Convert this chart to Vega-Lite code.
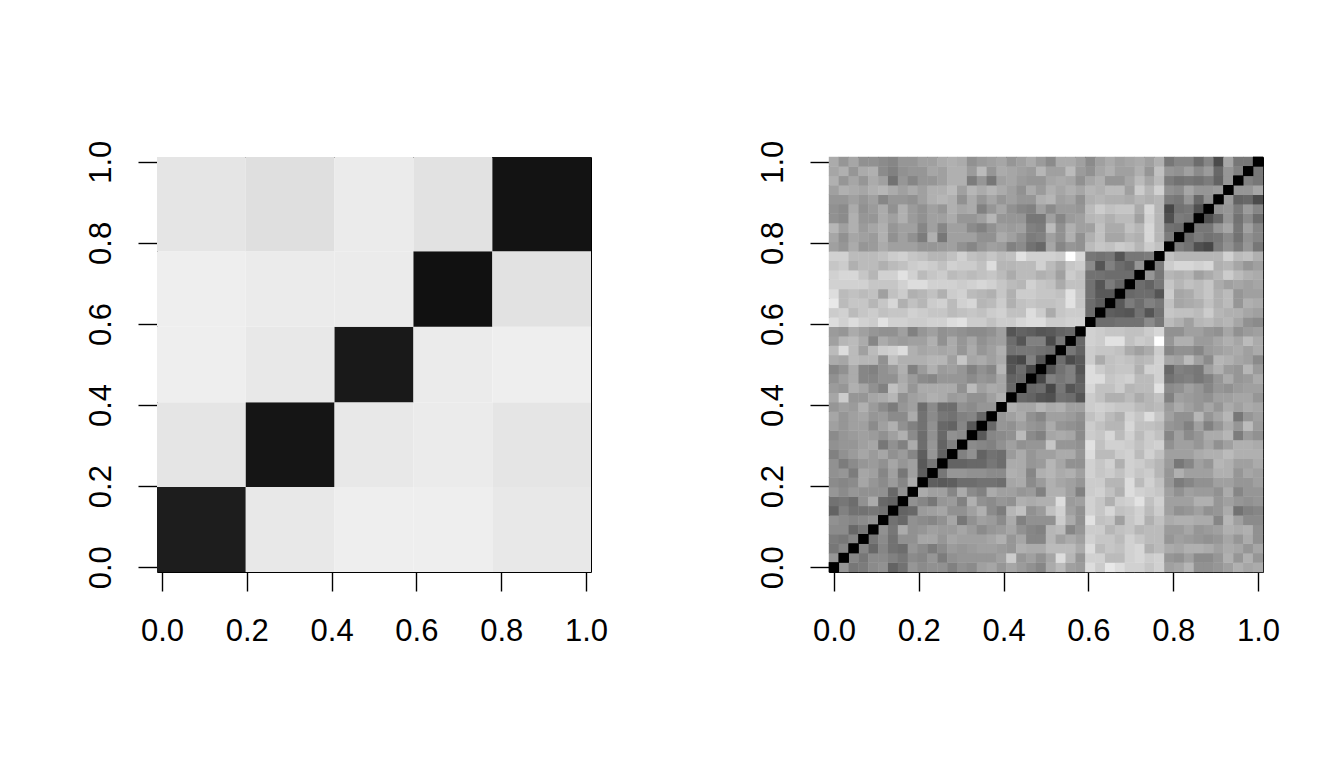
{"$schema":"https://vega.github.io/schema/vega-lite/v6.json","background":"white","padding":{"left":84,"top":139,"right":0,"bottom":0},"spacing":147,"config":{"view":{"stroke":"#000","strokeWidth":1},"font":"Liberation Sans","axis":{"domain":false,"grid":false,"title":null,"tickColor":"#000","tickWidth":1.4,"tickSize":19,"labelColor":"#000","labelFont":"Liberation Sans","labelFontSize":31}},"hconcat":[{"width":434,"height":415,"data":{"values":[{"a":-0.5,"b":8.5,"c":-0.5,"d":8.5,"v":11},{"a":8.5,"b":17.5,"c":-0.5,"d":8.5,"v":92},{"a":17.5,"b":25.5,"c":-0.5,"d":8.5,"v":94},{"a":25.5,"b":33.5,"c":-0.5,"d":8.5,"v":94},{"a":33.5,"b":43.5,"c":-0.5,"d":8.5,"v":92},{"a":-0.5,"b":8.5,"c":8.5,"d":17.5,"v":91},{"a":8.5,"b":17.5,"c":8.5,"d":17.5,"v":7},{"a":17.5,"b":25.5,"c":8.5,"d":17.5,"v":92},{"a":25.5,"b":33.5,"c":8.5,"d":17.5,"v":93},{"a":33.5,"b":43.5,"c":8.5,"d":17.5,"v":91},{"a":-0.5,"b":8.5,"c":17.5,"d":25.5,"v":94},{"a":8.5,"b":17.5,"c":17.5,"d":25.5,"v":92},{"a":17.5,"b":25.5,"c":17.5,"d":25.5,"v":9},{"a":25.5,"b":33.5,"c":17.5,"d":25.5,"v":93},{"a":33.5,"b":43.5,"c":17.5,"d":25.5,"v":94},{"a":-0.5,"b":8.5,"c":25.5,"d":33.5,"v":94},{"a":8.5,"b":17.5,"c":25.5,"d":33.5,"v":93},{"a":17.5,"b":25.5,"c":25.5,"d":33.5,"v":93},{"a":25.5,"b":33.5,"c":25.5,"d":33.5,"v":5},{"a":33.5,"b":43.5,"c":25.5,"d":33.5,"v":90},{"a":-0.5,"b":8.5,"c":33.5,"d":43.5,"v":91},{"a":8.5,"b":17.5,"c":33.5,"d":43.5,"v":89},{"a":17.5,"b":25.5,"c":33.5,"d":43.5,"v":93},{"a":25.5,"b":33.5,"c":33.5,"d":43.5,"v":90},{"a":33.5,"b":43.5,"c":33.5,"d":43.5,"v":6}]},"mark":"rect","encoding":{"x":{"field":"a","type":"quantitative","scale":{"domain":[-0.5,43.5],"nice":false,"zero":false},"axis":{"values":[0,8.6,17.2,25.8,34.4,43],"labelExpr":"format(datum.value/43,'.1f')","labelPadding":25}},"x2":{"field":"b"},"y":{"field":"c","type":"quantitative","scale":{"domain":[-0.5,43.5],"nice":false,"zero":false},"axis":{"values":[0,8.6,17.2,25.8,34.4,43],"labelExpr":"format(datum.value/43,'.1f')","labelAngle":270,"labelAlign":"center","labelBaseline":"bottom","labelPadding":21}},"y2":{"field":"d"},"color":{"field":"v","type":"quantitative","legend":null,"scale":{"domain":[0,100],"range":["#000000","#ffffff"]}}}},{"width":434,"height":415,"data":{"format":{"type":"csv"},"values":"i,j,v\n0,1,62\n0,2,50\n1,2,56\n0,3,52\n1,3,50\n2,3,56\n0,4,58\n1,4,58\n2,4,44\n3,4,50\n0,5,60\n1,5,58\n2,5,56\n3,5,58\n4,5,60\n0,6,42\n1,6,54\n2,6,48\n3,6,48\n4,6,50\n5,6,48\n0,7,48\n1,7,50\n2,7,46\n3,7,60\n4,7,70\n5,7,44\n6,7,42\n0,8,62\n1,8,58\n2,8,62\n3,8,60\n4,8,60\n5,8,60\n6,8,44\n7,8,60\n0,9,58\n1,9,56\n2,9,58\n3,9,68\n4,9,62\n5,9,58\n6,9,64\n7,9,56\n8,9,70\n0,10,60\n1,10,62\n2,10,52\n3,10,68\n4,10,66\n5,10,56\n6,10,66\n7,10,50\n8,10,66\n9,10,40\n0,11,60\n1,11,52\n2,11,58\n3,11,62\n4,11,64\n5,11,60\n6,11,68\n7,11,62\n8,11,66\n9,11,38\n10,11,50\n0,12,54\n1,12,60\n2,12,64\n3,12,68\n4,12,64\n5,12,68\n6,12,60\n7,12,64\n8,12,56\n9,12,40\n10,12,62\n11,12,42\n0,13,60\n1,13,62\n2,13,62\n3,13,66\n4,13,68\n5,13,50\n6,13,60\n7,13,54\n8,13,70\n9,13,46\n10,13,62\n11,13,42\n12,13,54\n0,14,58\n1,14,62\n2,14,64\n3,14,66\n4,14,64\n5,14,60\n6,14,66\n7,14,72\n8,14,58\n9,14,46\n10,14,60\n11,14,44\n12,14,60\n13,14,58\n0,15,66\n1,15,62\n2,15,66\n3,15,66\n4,15,58\n5,15,66\n6,15,72\n7,15,60\n8,15,54\n9,15,48\n10,15,60\n11,15,44\n12,15,42\n13,15,56\n14,15,38\n0,16,68\n1,16,62\n2,16,66\n3,16,68\n4,16,62\n5,16,64\n6,16,58\n7,16,58\n8,16,70\n9,16,48\n10,16,58\n11,16,50\n12,16,48\n13,16,54\n14,16,56\n15,16,44\n0,17,62\n1,17,66\n2,17,64\n3,17,72\n4,17,64\n5,17,58\n6,17,52\n7,17,62\n8,17,66\n9,17,46\n10,17,58\n11,17,46\n12,17,46\n13,17,60\n14,17,58\n15,17,62\n16,17,62\n0,18,68\n1,18,82\n2,18,62\n3,18,62\n4,18,68\n5,18,70\n6,18,74\n7,18,60\n8,18,66\n9,18,68\n10,18,72\n11,18,70\n12,18,64\n13,18,66\n14,18,60\n15,18,60\n16,18,66\n17,18,72\n0,19,64\n1,19,62\n2,19,72\n3,19,68\n4,19,60\n5,19,54\n6,19,78\n7,19,72\n8,19,62\n9,19,70\n10,19,70\n11,19,70\n12,19,70\n13,19,60\n14,19,76\n15,19,66\n16,19,70\n17,19,68\n18,19,44\n0,20,60\n1,20,66\n2,20,70\n3,20,56\n4,20,56\n5,20,60\n6,20,60\n7,20,70\n8,20,64\n9,20,58\n10,20,56\n11,20,62\n12,20,62\n13,20,62\n14,20,58\n15,20,62\n16,20,60\n17,20,68\n18,20,42\n19,20,44\n0,21,56\n1,21,60\n2,21,70\n3,21,56\n4,21,54\n5,21,60\n6,21,64\n7,21,72\n8,21,54\n9,21,64\n10,21,72\n11,21,64\n12,21,66\n13,21,62\n14,21,54\n15,21,60\n16,21,56\n17,21,74\n18,21,36\n19,21,46\n20,21,30\n0,22,70\n1,22,68\n2,22,76\n3,22,74\n4,22,74\n5,22,60\n6,22,78\n7,22,72\n8,22,72\n9,22,72\n10,22,74\n11,22,74\n12,22,66\n13,22,80\n14,22,68\n15,22,70\n16,22,66\n17,22,70\n18,22,34\n19,22,30\n20,22,54\n21,22,36\n0,23,76\n1,23,88\n2,23,76\n3,23,66\n4,23,76\n5,23,82\n6,23,84\n7,23,88\n8,23,72\n9,23,68\n10,23,70\n11,23,68\n12,23,70\n13,23,62\n14,23,70\n15,23,62\n16,23,66\n17,23,72\n18,23,48\n19,23,50\n20,23,50\n21,23,48\n22,23,46\n0,24,66\n1,24,74\n2,24,76\n3,24,70\n4,24,56\n5,24,70\n6,24,66\n7,24,64\n8,24,66\n9,24,66\n10,24,72\n11,24,60\n12,24,70\n13,24,62\n14,24,68\n15,24,60\n16,24,64\n17,24,66\n18,24,46\n19,24,36\n20,24,54\n21,24,54\n22,24,32\n23,24,50\n0,25,64\n1,25,62\n2,25,70\n3,25,66\n4,25,62\n5,25,60\n6,25,60\n7,25,66\n8,25,54\n9,25,62\n10,25,66\n11,25,60\n12,25,62\n13,25,60\n14,25,58\n15,25,58\n16,25,60\n17,25,66\n18,25,36\n19,25,42\n20,25,40\n21,25,36\n22,25,38\n23,25,42\n24,25,44\n0,26,88\n1,26,84\n2,26,88\n3,26,84\n4,26,82\n5,26,90\n6,26,84\n7,26,84\n8,26,82\n9,26,82\n10,26,84\n11,26,84\n12,26,88\n13,26,90\n14,26,82\n15,26,82\n16,26,78\n17,26,82\n18,26,82\n19,26,86\n20,26,88\n21,26,88\n22,26,82\n23,26,82\n24,26,84\n25,26,84\n0,27,82\n1,27,84\n2,27,76\n3,27,80\n4,27,82\n5,27,78\n6,27,80\n7,27,80\n8,27,84\n9,27,82\n10,27,80\n11,27,80\n12,27,76\n13,27,78\n14,27,80\n15,27,78\n16,27,82\n17,27,84\n18,27,78\n19,27,78\n20,27,88\n21,27,82\n22,27,70\n23,27,80\n24,27,82\n25,27,82\n26,27,46\n0,28,92\n1,28,76\n2,28,80\n3,28,80\n4,28,74\n5,28,80\n6,28,86\n7,28,72\n8,28,78\n9,28,74\n10,28,82\n11,28,84\n12,28,76\n13,28,84\n14,28,86\n15,28,74\n16,28,76\n17,28,82\n18,28,72\n19,28,78\n20,28,80\n21,28,78\n22,28,78\n23,28,80\n24,28,90\n25,28,80\n26,28,46\n27,28,40\n0,29,88\n1,29,76\n2,29,78\n3,29,76\n4,29,78\n5,29,66\n6,29,78\n7,29,82\n8,29,72\n9,29,74\n10,29,78\n11,29,72\n12,29,82\n13,29,84\n14,29,76\n15,29,74\n16,29,72\n17,29,80\n18,29,72\n19,29,82\n20,29,82\n21,29,80\n22,29,80\n23,29,78\n24,29,90\n25,29,80\n26,29,48\n27,29,38\n28,29,38\n0,30,84\n1,30,84\n2,30,84\n3,30,84\n4,30,80\n5,30,80\n6,30,80\n7,30,84\n8,30,88\n9,30,88\n10,30,84\n11,30,84\n12,30,84\n13,30,82\n14,30,84\n15,30,86\n16,30,84\n17,30,80\n18,30,76\n19,30,74\n20,30,84\n21,30,80\n22,30,78\n23,30,70\n24,30,78\n25,30,78\n26,30,48\n27,30,36\n28,30,52\n29,30,44\n0,31,84\n1,31,86\n2,31,86\n3,31,80\n4,31,74\n5,31,84\n6,31,84\n7,31,90\n8,31,84\n9,31,76\n10,31,80\n11,31,82\n12,31,76\n13,31,78\n14,31,76\n15,31,78\n16,31,80\n17,31,76\n18,31,70\n19,31,76\n20,31,76\n21,31,72\n22,31,74\n23,31,66\n24,31,82\n25,31,78\n26,31,48\n27,31,48\n28,31,46\n29,31,46\n30,31,46\n0,32,80\n1,32,82\n2,32,72\n3,32,76\n4,32,76\n5,32,72\n6,32,76\n7,32,78\n8,32,82\n9,32,84\n10,32,82\n11,32,78\n12,32,84\n13,32,82\n14,32,82\n15,32,78\n16,32,88\n17,32,74\n18,32,74\n19,32,76\n20,32,76\n21,32,84\n22,32,76\n23,32,70\n24,32,80\n25,32,82\n26,32,58\n27,32,36\n28,32,54\n29,32,46\n30,32,42\n31,32,62\n0,33,84\n1,33,84\n2,33,76\n3,33,76\n4,33,76\n5,33,78\n6,33,82\n7,33,84\n8,33,80\n9,33,78\n10,33,74\n11,33,74\n12,33,78\n13,33,84\n14,33,78\n15,33,76\n16,33,80\n17,33,76\n18,33,78\n19,33,90\n20,33,84\n21,33,84\n22,33,84\n23,33,82\n24,33,100\n25,33,86\n26,33,50\n27,33,48\n28,33,50\n29,33,36\n30,33,50\n31,33,50\n32,33,52\n0,34,66\n1,34,62\n2,34,70\n3,34,62\n4,34,64\n5,34,70\n6,34,66\n7,34,66\n8,34,66\n9,34,62\n10,34,62\n11,34,64\n12,34,66\n13,34,60\n14,34,56\n15,34,62\n16,34,66\n17,34,64\n18,34,54\n19,34,58\n20,34,48\n21,34,44\n22,34,68\n23,34,56\n24,34,62\n25,34,60\n26,34,76\n27,34,80\n28,34,78\n29,34,82\n30,34,80\n31,34,74\n32,34,82\n33,34,78\n0,35,68\n1,35,60\n2,35,68\n3,35,66\n4,35,64\n5,35,72\n6,35,60\n7,35,66\n8,35,60\n9,35,52\n10,35,72\n11,35,50\n12,35,66\n13,35,66\n14,35,66\n15,35,60\n16,35,60\n17,35,70\n18,35,66\n19,35,60\n20,35,52\n21,35,54\n22,35,66\n23,35,60\n24,35,72\n25,35,60\n26,35,72\n27,35,78\n28,35,68\n29,35,68\n30,35,74\n31,35,72\n32,35,86\n33,35,74\n34,35,52\n0,36,74\n1,36,66\n2,36,72\n3,36,64\n4,36,68\n5,36,72\n6,36,62\n7,36,66\n8,36,66\n9,36,56\n10,36,66\n11,36,56\n12,36,66\n13,36,66\n14,36,58\n15,36,54\n16,36,60\n17,36,66\n18,36,64\n19,36,66\n20,36,54\n21,36,52\n22,36,76\n23,36,60\n24,36,72\n25,36,66\n26,36,66\n27,36,78\n28,36,70\n29,36,70\n30,36,78\n31,36,74\n32,36,86\n33,36,74\n34,36,48\n35,36,46\n0,37,60\n1,37,58\n2,37,72\n3,37,62\n4,37,62\n5,37,70\n6,37,66\n7,37,72\n8,37,64\n9,37,60\n10,37,66\n11,37,66\n12,37,70\n13,37,62\n14,37,62\n15,37,66\n16,37,74\n17,37,62\n18,37,62\n19,37,62\n20,37,50\n21,37,50\n22,37,66\n23,37,56\n24,37,64\n25,37,66\n26,37,74\n27,37,76\n28,37,72\n29,37,76\n30,37,76\n31,37,66\n32,37,84\n33,37,74\n34,37,34\n35,37,52\n36,37,50\n0,38,60\n1,38,58\n2,38,70\n3,38,60\n4,38,64\n5,38,70\n6,38,60\n7,38,72\n8,38,64\n9,38,60\n10,38,66\n11,38,62\n12,38,72\n13,38,68\n14,38,70\n15,38,54\n16,38,62\n17,38,68\n18,38,60\n19,38,56\n20,38,54\n21,38,66\n22,38,58\n23,38,64\n24,38,64\n25,38,62\n26,38,76\n27,38,82\n28,38,78\n29,38,80\n30,38,80\n31,38,70\n32,38,86\n33,38,74\n34,38,30\n35,38,48\n36,38,50\n37,38,34\n0,39,62\n1,39,62\n2,39,66\n3,39,62\n4,39,66\n5,39,56\n6,39,62\n7,39,62\n8,39,60\n9,39,66\n10,39,72\n11,39,74\n12,39,72\n13,39,60\n14,39,70\n15,39,62\n16,39,68\n17,39,62\n18,39,66\n19,39,62\n20,39,62\n21,39,72\n22,39,74\n23,39,66\n24,39,68\n25,39,60\n26,39,72\n27,39,74\n28,39,72\n29,39,72\n30,39,70\n31,39,74\n32,39,72\n33,39,74\n34,39,52\n35,39,50\n36,39,62\n37,39,44\n38,39,60\n0,40,66\n1,40,72\n2,40,70\n3,40,68\n4,40,72\n5,40,74\n6,40,70\n7,40,66\n8,40,70\n9,40,66\n10,40,72\n11,40,72\n12,40,76\n13,40,66\n14,40,74\n15,40,70\n16,40,74\n17,40,70\n18,40,66\n19,40,60\n20,40,70\n21,40,64\n22,40,72\n23,40,68\n24,40,72\n25,40,68\n26,40,74\n27,40,72\n28,40,76\n29,40,76\n30,40,66\n31,40,82\n32,40,74\n33,40,84\n34,40,60\n35,40,58\n36,40,68\n37,40,62\n38,40,62\n39,40,64\n0,41,72\n1,41,62\n2,41,68\n3,41,62\n4,41,70\n5,41,66\n6,41,48\n7,41,62\n8,41,56\n9,41,62\n10,41,62\n11,41,66\n12,41,72\n13,41,72\n14,41,52\n15,41,62\n16,41,50\n17,41,66\n18,41,68\n19,41,64\n20,41,62\n21,41,62\n22,41,68\n23,41,70\n24,41,68\n25,41,60\n26,41,68\n27,41,72\n28,41,62\n29,41,62\n30,41,68\n31,41,76\n32,41,68\n33,41,76\n34,41,52\n35,41,48\n36,41,50\n37,41,48\n38,41,52\n39,41,42\n40,41,62\n0,42,68\n1,42,72\n2,42,62\n3,42,70\n4,42,72\n5,42,58\n6,42,54\n7,42,60\n8,42,62\n9,42,62\n10,42,68\n11,42,66\n12,42,72\n13,42,72\n14,42,64\n15,42,76\n16,42,62\n17,42,70\n18,42,68\n19,42,66\n20,42,64\n21,42,74\n22,42,66\n23,42,66\n24,42,76\n25,42,64\n26,42,60\n27,42,68\n28,42,72\n29,42,66\n30,42,66\n31,42,72\n32,42,62\n33,42,78\n34,42,62\n35,42,60\n36,42,66\n37,42,58\n38,42,64\n39,42,44\n40,42,62\n41,42,54\n0,43,70\n1,43,62\n2,43,68\n3,43,60\n4,43,60\n5,43,58\n6,43,56\n7,43,62\n8,43,62\n9,43,66\n10,43,66\n11,43,70\n12,43,72\n13,43,70\n14,43,60\n15,43,64\n16,43,66\n17,43,68\n18,43,62\n19,43,66\n20,43,70\n21,43,64\n22,43,58\n23,43,70\n24,43,70\n25,43,66\n26,43,58\n27,43,66\n28,43,70\n29,43,66\n30,43,68\n31,43,70\n32,43,66\n33,43,72\n34,43,50\n35,43,56\n36,43,56\n37,43,46\n38,43,56\n39,43,32\n40,43,68\n41,43,50\n42,43,50\n0,0,0\n1,1,0\n2,2,0\n3,3,0\n4,4,0\n5,5,0\n6,6,0\n7,7,0\n8,8,0\n9,9,0\n10,10,0\n11,11,0\n12,12,0\n13,13,0\n14,14,0\n15,15,0\n16,16,0\n17,17,0\n18,18,0\n19,19,0\n20,20,0\n21,21,0\n22,22,0\n23,23,0\n24,24,0\n25,25,0\n26,26,0\n27,27,0\n28,28,0\n29,29,0\n30,30,0\n31,31,0\n32,32,0\n33,33,0\n34,34,0\n35,35,0\n36,36,0\n37,37,0\n38,38,0\n39,39,0\n40,40,0\n41,41,0\n42,42,0\n43,43,0"},"layer":[{"mark":{"type":"rect","width":10.3,"height":9.9},"encoding":{"x":{"field":"i","type":"quantitative","scale":{"domain":[-0.5,43.5],"nice":false,"zero":false},"axis":{"values":[0,8.6,17.2,25.8,34.4,43],"labelExpr":"format(datum.value/43,'.1f')","labelPadding":25}},"y":{"field":"j","type":"quantitative","scale":{"domain":[-0.5,43.5],"nice":false,"zero":false},"axis":{"values":[0,8.6,17.2,25.8,34.4,43],"labelExpr":"format(datum.value/43,'.1f')","labelAngle":270,"labelAlign":"center","labelBaseline":"bottom","labelPadding":21}},"color":{"field":"v","type":"quantitative","legend":null,"scale":{"domain":[0,97],"clamp":true,"range":["#000000","#ffffff"]}}}},{"mark":{"type":"rect","width":10.3,"height":9.9},"encoding":{"x":{"field":"j","type":"quantitative"},"y":{"field":"i","type":"quantitative"},"color":{"field":"v","type":"quantitative","legend":null}}}]}]}
